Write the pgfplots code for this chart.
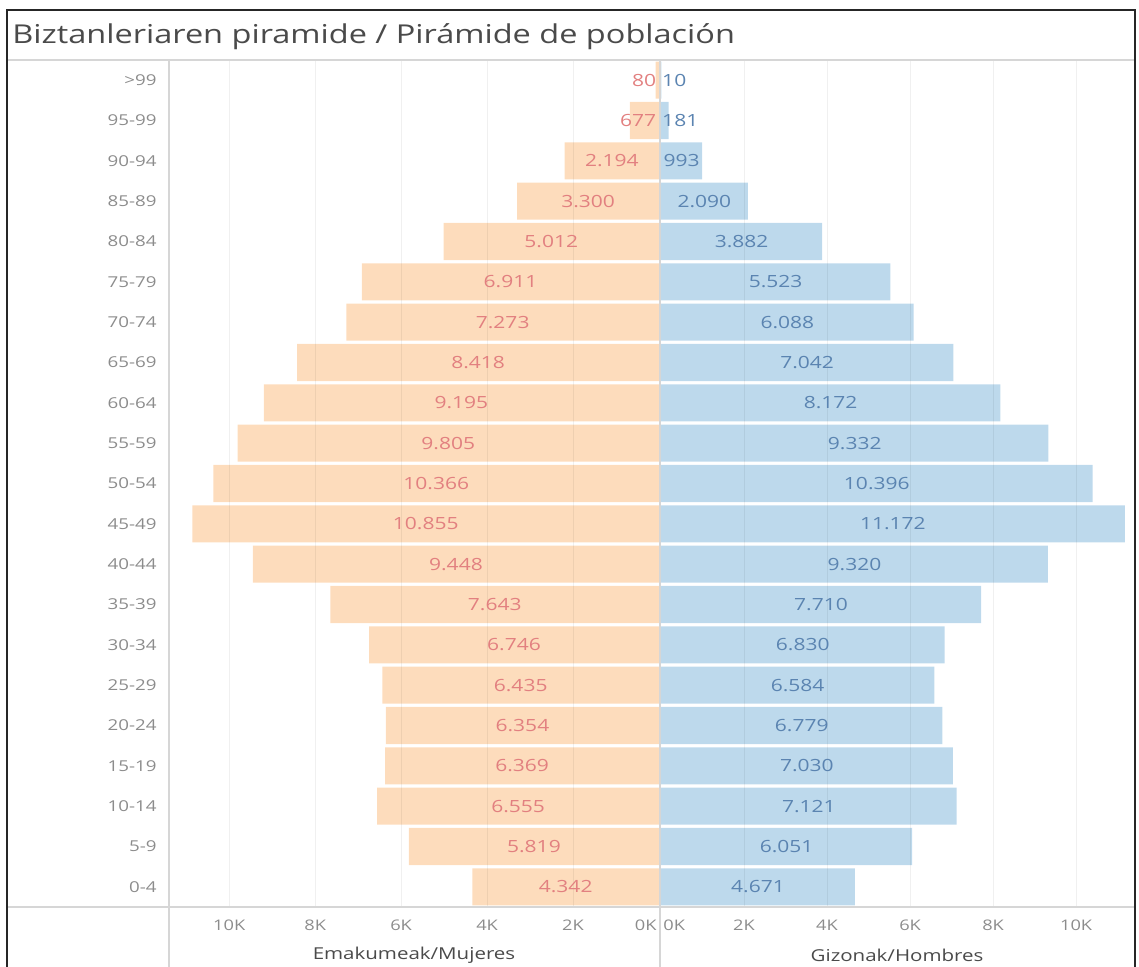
\documentclass[border=0pt]{standalone}
\usepackage{pgfplots}
\pgfplotsset{compat=1.18}
\usepackage{pgfplotstable}
\usepackage{fontspec}
\setmainfont{Open Sans}[FakeStretch=1.25]

\definecolor{fbar}{HTML}{FDDCBC}
\definecolor{mbar}{HTML}{BDD9EC}
\definecolor{flab}{HTML}{E28080}
\definecolor{mlab}{HTML}{5B84B1}
\definecolor{tickc}{HTML}{8C8C8C}
\definecolor{linec}{HTML}{D6D6D6}
\definecolor{titlec}{HTML}{4A4A4A}

% female (Emakumeak/Mujeres), y=0 is 0-4 ... y=20 is >99
\pgfplotstableread{
y v lab
0 4342 4.342
1 5819 5.819
2 6555 6.555
3 6369 6.369
4 6354 6.354
5 6435 6.435
6 6746 6.746
7 7643 7.643
8 9448 9.448
9 10855 10.855
10 10366 10.366
11 9805 9.805
12 9195 9.195
13 8418 8.418
14 7273 7.273
15 6911 6.911
16 5012 5.012
17 3300 3.300
18 2194 2.194
19 677 677
20 80 80
}\female
% male (Gizonak/Hombres)
\pgfplotstableread{
y v lab
0 4671 4.671
1 6051 6.051
2 7121 7.121
3 7030 7.030
4 6779 6.779
5 6584 6.584
6 6830 6.830
7 7710 7.710
8 9320 9.320
9 11172 11.172
10 10396 10.396
11 9332 9.332
12 8172 8.172
13 7042 7.042
14 6088 6.088
15 5523 5.523
16 3882 3.882
17 2090 2.090
18 993 993
19 181 181
20 10 10
}\male

\pgfplotsset{
  pyr/.style={
    scale only axis, anchor=south west,
    height=423.5pt,
    ymin=-0.5, ymax=20.5,
    axis line style={draw=none},
    major tick length=0pt,
    scaled x ticks=false,
    xmajorgrids, grid style={black, opacity=0.06, line width=0.5pt},
    axis on top,
    xtick={2000,4000,6000,8000,10000},
    xticklabels={2K,4K,6K,8K,10K},
    extra x ticks={0}, extra x tick labels={0K},
    xticklabel style={anchor=center, inner sep=0pt, yshift=-9pt, text=tickc, font=\fontsize{7.3}{9}\selectfont},
    xlabel style={at={(axis description cs:0.5,0)}, anchor=center, yshift=-24pt, text=titlec, font=\fontsize{8.2}{10}\selectfont},
    clip=false,
  }
}

\begin{document}
\begin{tikzpicture}
\path[use as bounding box] (0,0) rectangle (569.5pt,483.5pt);

\begin{axis}[pyr,
  at={(84.5pt,30pt)}, width=245pt,
  xmin=0, xmax=11400, x dir=reverse,
  ytick={0,...,20},
  yticklabels={0-4,5-9,10-14,15-19,20-24,25-29,30-34,35-39,40-44,45-49,50-54,55-59,60-64,65-69,70-74,75-79,80-84,85-89,90-94,95-99,>99},
  yticklabel style={anchor=east, inner sep=0pt, xshift=-6pt, text=tickc, font=\fontsize{7.5}{9}\selectfont},
  extra x tick style={grid=none, xticklabel style={anchor=east, xshift=-1pt}},
  xlabel={Emakumeak/Mujeres},
]
\addplot[xbar, bar width=0.92, fill=fbar, draw=none] table[x=v, y=y]{\female};
\addplot[draw=none, mark=none, forget plot, nodes near coords, point meta=explicit symbolic,
  every node near coord/.style={anchor=center, inner sep=0pt, text=flab, font=\fontsize{8.4}{10}\selectfont}]
  table[x expr=\thisrow{v}/2, y=y, meta=lab, skip coords between index={19}{21}]{\female};
\addplot[draw=none, mark=none, forget plot, nodes near coords, point meta=explicit symbolic,
  every node near coord/.style={anchor=east, inner sep=0pt, text=flab, font=\fontsize{8.4}{10}\selectfont}]
  table[x expr=60, y=y, meta=lab, skip coords between index={0}{19}]{\female};
\end{axis}

\begin{axis}[pyr,
  at={(330.5pt,30pt)}, width=236pt,
  xmin=0, xmax=11370,
  ytick=\empty,
  extra x tick style={grid=none, xticklabel style={anchor=west, xshift=1pt}},
  xlabel={Gizonak/Hombres},
]
\addplot[xbar, bar width=0.92, fill=mbar, draw=none] table[x=v, y=y]{\male};
\addplot[draw=none, mark=none, forget plot, nodes near coords, point meta=explicit symbolic,
  every node near coord/.style={anchor=center, inner sep=0pt, text=mlab, font=\fontsize{8.4}{10}\selectfont}]
  table[x expr=\thisrow{v}/2, y=y, meta=lab, skip coords between index={19}{21}]{\male};
\addplot[draw=none, mark=none, forget plot, nodes near coords, point meta=explicit symbolic,
  every node near coord/.style={anchor=west, inner sep=0pt, text=mlab, font=\fontsize{8.4}{10}\selectfont}]
  table[x expr=20, y=y, meta=lab, skip coords between index={0}{19}]{\male};
\end{axis}

% frame and separators
\draw[linec, line width=0.6pt] (3pt,453.5pt) -- (567.5pt,453.5pt);
\draw[linec, line width=0.6pt] (3pt,30pt) -- (567.5pt,30pt);
\draw[linec, line width=0.6pt] (84.5pt,453.5pt) -- (84.5pt,0pt);
\draw[linec, line width=0.6pt] (330pt,453.5pt) -- (330pt,0pt);
\draw[black!85, line width=1.3pt] (3.5pt,0pt) -- (3.5pt,478.5pt) -- (567.5pt,478.5pt) -- (567.5pt,0pt);
\node[anchor=west, inner sep=0pt, text=titlec, font=\fontsize{13}{15}\selectfont] at (6pt,465pt) {Biztanleriaren piramide / Pirámide de población};
\end{tikzpicture}
\end{document}
